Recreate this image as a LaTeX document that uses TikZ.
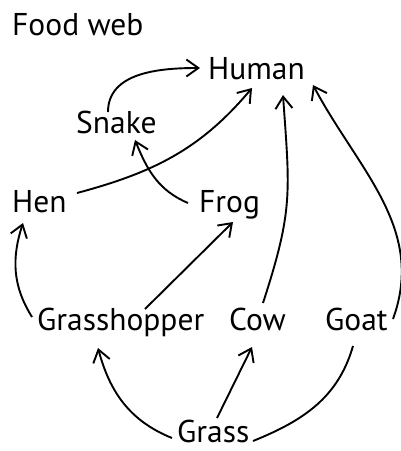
\documentclass[tikz,border=0pt]{standalone}
\usepackage{fontspec}
\setmainfont{PT Sans}
\usetikzlibrary{arrows.meta}
\begin{document}
\begin{tikzpicture}[x=1pt,y=-1pt,
  lbl/.style={anchor=base west,inner sep=0pt,font=\fontsize{31.5}{31.5}\selectfont},
  link/.style={line width=1.9pt,-{Straight Barb[length=12pt,width=17pt,line width=1.9pt]}},
  plain/.style={line width=1.9pt}]
\useasboundingbox (0,0) rectangle (401,451);
\node[lbl] (title) at (12,35) {Food web};
\node[lbl] (human) at (208,79) {Human};
\node[lbl] (snake) at (76,133) {Snake};
\node[lbl] (hen) at (12,212) {Hen};
\node[lbl] (frog) at (199,212) {Frog};
\node[lbl] (hopper) at (37,330) {Grasshopper};
\node[lbl] (cow) at (229,330) {Cow};
\node[lbl] (goat) at (325,330) {Goat};
\node[lbl] (grass) at (177,442) {Grass};
% snake -> human
\draw[link] ([xshift=32pt,yshift=21pt]snake.base west) to[out=90,in=180] ([xshift=-8pt,yshift=11pt]human.base west);
% hen -> human
\draw[link] ([xshift=65pt,yshift=19pt]hen.base west) to[out=15,in=-130] ([xshift=44pt,yshift=-9pt]human.base west);
% frog -> snake
\draw[link] ([xshift=-11pt,yshift=9pt]frog.base west) to[out=157,in=-68] ([xshift=59pt,yshift=-7pt]snake.base west);
% cow -> human
\draw[link] ([xshift=34pt,yshift=27pt]cow.base west) to[out=72,in=-86,looseness=1.2] ([xshift=75pt,yshift=-16pt]human.base west);
% goat -> human
\draw[link] ([xshift=68pt,yshift=11pt]goat.base west) to[out=70,in=-62] ([xshift=105pt,yshift=-6pt]human.base west);
% grasshopper -> hen
\draw[link] ([xshift=-5pt,yshift=13pt]hopper.base west) to[out=122,in=-108] ([xshift=11pt,yshift=-11pt]hen.base west);
% grasshopper -> frog
\draw[link] ([xshift=108pt,yshift=21pt]hopper.base west) -- ([xshift=34pt,yshift=-10pt]frog.base west);
% grass -> grasshopper
\draw[link] ([xshift=-5pt,yshift=4pt]grass.base west) to[out=158,in=-75] ([xshift=61pt,yshift=-18pt]hopper.base west);
% grass -> cow
\draw[link] ([xshift=40pt,yshift=24pt]grass.base west) -- ([xshift=23pt,yshift=-17pt]cow.base west);
% goat -- grass
\draw[plain] ([xshift=28pt,yshift=-16pt]goat.base west) to[out=-106,in=22] ([xshift=76pt,yshift=1pt]grass.base west);
\end{tikzpicture}
\end{document}
